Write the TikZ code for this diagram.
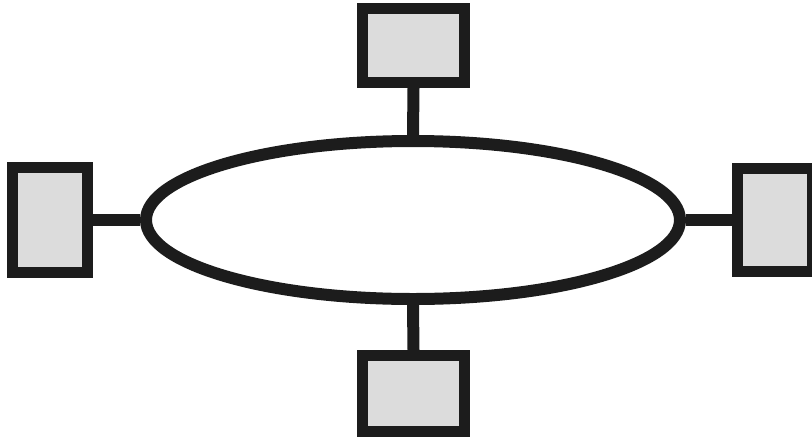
\documentclass[tikz,border=0pt]{standalone}
\usetikzlibrary{shapes.geometric}
\definecolor{ink}{HTML}{1C1C1C}
\definecolor{boxfill}{HTML}{DCDCDC}
\begin{document}
\begin{tikzpicture}[x=1pt,y=-1pt,
  station/.style={draw=ink, fill=boxfill, line width=11pt, rectangle, inner sep=0pt},
  ring/.style={draw=ink, line width=12pt, ellipse, inner sep=0pt, minimum width=534pt, minimum height=158pt},
  link/.style={draw=ink, line width=12pt}]
\useasboundingbox (0,0) rectangle (812,440);
\node[ring] (bus) at (413,220) {};
\node[station, minimum width=102pt, minimum height=74pt] (top) at (413.5,45.5) {};
\node[station, minimum width=102pt, minimum height=76pt] (bottom) at (413.5,393.5) {};
\node[station, minimum width=75pt, minimum height=105pt] (left) at (50,220) {};
\node[station, minimum width=75pt, minimum height=103pt] (right) at (775,220) {};
\draw[link] (top.south) -- (bus.north);
\draw[link] (bottom.north) -- (bus.south);
\draw[link] (left.east) -- (bus.west);
\draw[link] (right.west) -- (bus.east);
\end{tikzpicture}
\end{document}
